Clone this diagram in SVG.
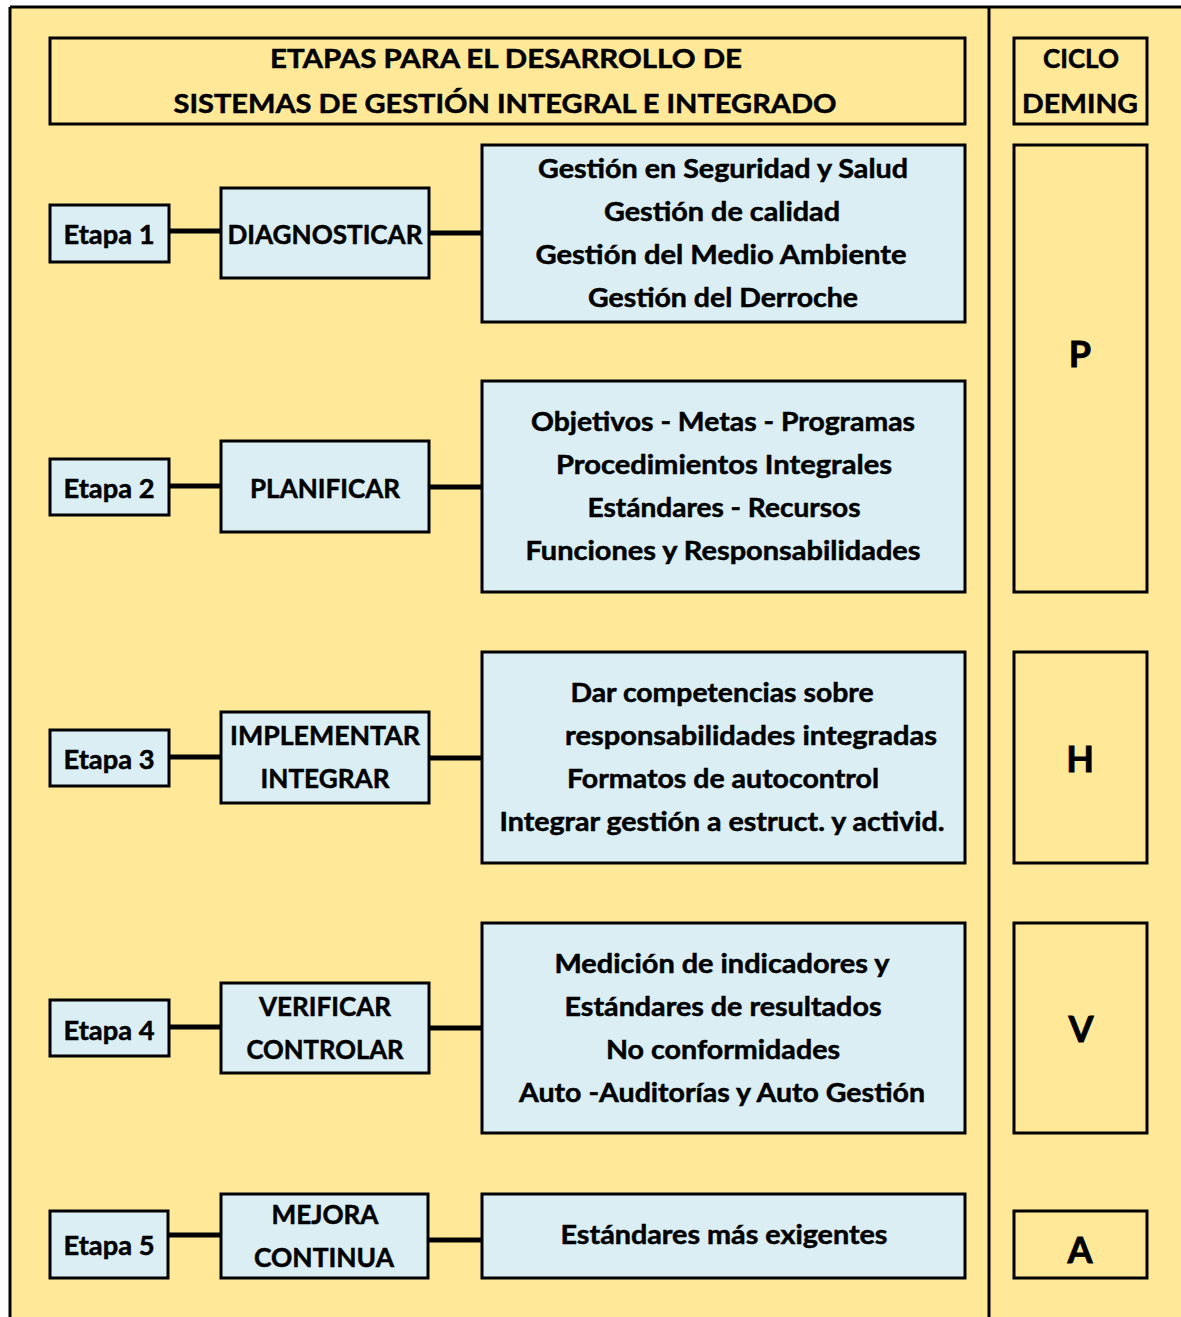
<svg xmlns="http://www.w3.org/2000/svg" width="1181" height="1317" viewBox="0 0 1181 1317">
  <style>
    .bg { fill: #FFE999; }
    .frame { fill: none; stroke: #000; stroke-width: 3; }
    .box { fill: #FFE999; stroke: #000; stroke-width: 3; }
    .node { fill: #DAEEF3; stroke: #000; stroke-width: 3; }
    .link { stroke: #000; stroke-width: 5; fill: none; }
    text { font-family: "Lato", "Open Sans", "Liberation Sans", sans-serif; font-weight: bold; font-size: 27px; fill: #000; stroke: #000; stroke-width: 0.5; text-anchor: middle; }
    .big { font-size: 36px; stroke-width: 0.8; }
  </style>

  <!-- page background and frame -->
  <rect x="0" y="0" width="1181" height="1317" fill="#FFFFFF"/>
  <rect class="bg" x="10" y="7" width="1171" height="1310"/>
  <line class="frame" x1="10" y1="7" x2="1181" y2="7"/>
  <line class="frame" x1="10" y1="7" x2="10" y2="1317"/>
  <line class="frame" x1="989" y1="7" x2="989" y2="1317"/>

  <!-- headings -->
  <g id="title">
    <rect class="box" x="50" y="38" width="915" height="86"/>
    <text x="506" y="68" textLength="472" lengthAdjust="spacingAndGlyphs">ETAPAS PARA EL DESARROLLO DE</text>
    <text x="505" y="113" textLength="663" lengthAdjust="spacingAndGlyphs">SISTEMAS DE GESTIÓN INTEGRAL E INTEGRADO</text>
  </g>
  <g id="deming">
    <rect class="box" x="1014" y="38" width="133" height="86"/>
    <text x="1081" y="68" textLength="76" lengthAdjust="spacingAndGlyphs">CICLO</text>
    <text x="1080" y="113" textLength="116" lengthAdjust="spacingAndGlyphs">DEMING</text>
  </g>

  <!-- connectors -->
  <g id="connectors">
    <line class="link" x1="169" y1="231" x2="221" y2="231"/>
    <line class="link" x1="429" y1="233" x2="482" y2="233"/>
    <line class="link" x1="169" y1="486" x2="221" y2="486"/>
    <line class="link" x1="429" y1="487" x2="482" y2="487"/>
    <line class="link" x1="169" y1="757" x2="221" y2="757"/>
    <line class="link" x1="429" y1="758" x2="482" y2="758"/>
    <line class="link" x1="169" y1="1027" x2="221" y2="1027"/>
    <line class="link" x1="429" y1="1028" x2="482" y2="1028"/>
    <line class="link" x1="169" y1="1235" x2="221" y2="1235"/>
    <line class="link" x1="429" y1="1240" x2="482" y2="1240"/>
  </g>

  <!-- stage 1 -->
  <g id="etapa1">
    <rect class="node" x="50" y="205" width="119" height="57"/>
    <text x="109" y="244" textLength="91" lengthAdjust="spacingAndGlyphs">Etapa 1</text>
  </g>
  <g id="diagnosticar">
    <rect class="node" x="221" y="188" width="208" height="90"/>
    <text x="325" y="244" textLength="195" lengthAdjust="spacingAndGlyphs">DIAGNOSTICAR</text>
  </g>
  <g id="detalle1">
    <rect class="node" x="482" y="145" width="483" height="177"/>
    <text x="723" y="178" textLength="370" lengthAdjust="spacingAndGlyphs">Gestión en Seguridad y Salud</text>
    <text x="722" y="221" textLength="236" lengthAdjust="spacingAndGlyphs">Gestión de calidad</text>
    <text x="721" y="264" textLength="371" lengthAdjust="spacingAndGlyphs">Gestión del Medio Ambiente</text>
    <text x="723" y="307" textLength="270" lengthAdjust="spacingAndGlyphs">Gestión del Derroche</text>
  </g>
  <g id="ciclo-p">
    <rect class="box" x="1014" y="145" width="133" height="447"/>
    <text class="big" x="1080" y="367">P</text>
  </g>

  <!-- stage 2 -->
  <g id="etapa2">
    <rect class="node" x="50" y="459" width="119" height="56"/>
    <text x="109" y="498" textLength="91" lengthAdjust="spacingAndGlyphs">Etapa 2</text>
  </g>
  <g id="planificar">
    <rect class="node" x="221" y="441" width="208" height="91"/>
    <text x="325" y="498" textLength="150" lengthAdjust="spacingAndGlyphs">PLANIFICAR</text>
  </g>
  <g id="detalle2">
    <rect class="node" x="482" y="381" width="483" height="211"/>
    <text x="723" y="431" textLength="384" lengthAdjust="spacingAndGlyphs">Objetivos - Metas - Programas</text>
    <text x="724" y="474" textLength="336" lengthAdjust="spacingAndGlyphs">Procedimientos Integrales</text>
    <text x="724" y="517" textLength="273" lengthAdjust="spacingAndGlyphs">Estándares - Recursos</text>
    <text x="723" y="560" textLength="395" lengthAdjust="spacingAndGlyphs">Funciones y Responsabilidades</text>
  </g>

  <!-- stage 3 -->
  <g id="etapa3">
    <rect class="node" x="50" y="730" width="119" height="56"/>
    <text x="109" y="769" textLength="91" lengthAdjust="spacingAndGlyphs">Etapa 3</text>
  </g>
  <g id="implementar">
    <rect class="node" x="221" y="712" width="208" height="91"/>
    <text x="325" y="745" textLength="190" lengthAdjust="spacingAndGlyphs">IMPLEMENTAR</text>
    <text x="325" y="788" textLength="129" lengthAdjust="spacingAndGlyphs">INTEGRAR</text>
  </g>
  <g id="detalle3">
    <rect class="node" x="482" y="652" width="483" height="211"/>
    <text x="722" y="702" textLength="303" lengthAdjust="spacingAndGlyphs">Dar competencias sobre</text>
    <text x="751" y="745" textLength="372" lengthAdjust="spacingAndGlyphs">responsabilidades integradas</text>
    <text x="723" y="788" textLength="312" lengthAdjust="spacingAndGlyphs">Formatos de autocontrol</text>
    <text x="722" y="831" textLength="445" lengthAdjust="spacingAndGlyphs">Integrar gestión a estruct. y activid.</text>
  </g>
  <g id="ciclo-h">
    <rect class="box" x="1014" y="652" width="133" height="211"/>
    <text class="big" x="1080" y="772">H</text>
  </g>

  <!-- stage 4 -->
  <g id="etapa4">
    <rect class="node" x="50" y="1000" width="119" height="56"/>
    <text x="109" y="1040" textLength="91" lengthAdjust="spacingAndGlyphs">Etapa 4</text>
  </g>
  <g id="verificar">
    <rect class="node" x="221" y="983" width="208" height="90"/>
    <text x="325" y="1016" textLength="132" lengthAdjust="spacingAndGlyphs">VERIFICAR</text>
    <text x="325" y="1059" textLength="157" lengthAdjust="spacingAndGlyphs">CONTROLAR</text>
  </g>
  <g id="detalle4">
    <rect class="node" x="482" y="923" width="483" height="210"/>
    <text x="722" y="973" textLength="335" lengthAdjust="spacingAndGlyphs">Medición de indicadores y</text>
    <text x="723" y="1016" textLength="317" lengthAdjust="spacingAndGlyphs">Estándares de resultados</text>
    <text x="723" y="1059" textLength="234" lengthAdjust="spacingAndGlyphs">No conformidades</text>
    <text x="722" y="1102" textLength="406" lengthAdjust="spacingAndGlyphs">Auto -Auditorías y Auto Gestión</text>
  </g>
  <g id="ciclo-v">
    <rect class="box" x="1014" y="923" width="133" height="210"/>
    <text class="big" x="1081" y="1042">V</text>
  </g>

  <!-- stage 5 -->
  <g id="etapa5">
    <rect class="node" x="50" y="1211" width="118" height="67"/>
    <text x="109" y="1255" textLength="91" lengthAdjust="spacingAndGlyphs">Etapa 5</text>
  </g>
  <g id="mejora">
    <rect class="node" x="221" y="1194" width="207" height="84"/>
    <text x="325" y="1224" textLength="107" lengthAdjust="spacingAndGlyphs">MEJORA</text>
    <text x="324" y="1267" textLength="140" lengthAdjust="spacingAndGlyphs">CONTINUA</text>
  </g>
  <g id="detalle5">
    <rect class="node" x="482" y="1194" width="483" height="84"/>
    <text x="724" y="1244" textLength="327" lengthAdjust="spacingAndGlyphs">Estándares más exigentes</text>
  </g>
  <g id="ciclo-a">
    <rect class="box" x="1014" y="1211" width="133" height="67"/>
    <text class="big" x="1080" y="1263">A</text>
  </g>
</svg>
